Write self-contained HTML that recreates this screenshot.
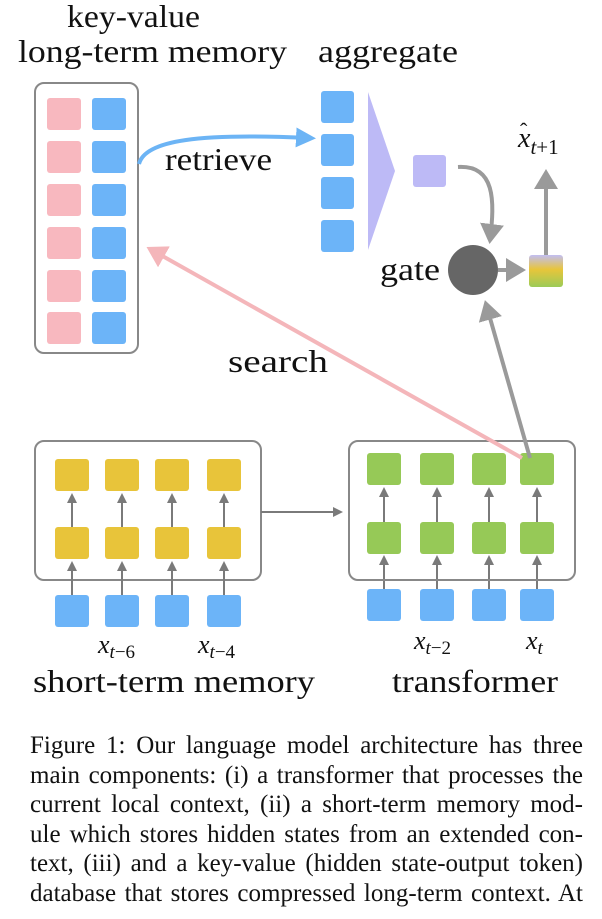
<!DOCTYPE html>
<html><head><meta charset="utf-8"><style>
body{margin:0;width:602px;height:919px;background:#fff;overflow:hidden;position:relative;font-family:"Liberation Serif",serif}
svg{position:absolute;left:0;top:0}
.cap{position:absolute;left:30px;top:731px;width:553px;font-size:25px;line-height:29.6px;text-align:justify;color:#111;white-space:nowrap}
.cap span{display:block;text-align-last:justify}
</style></head><body>
<svg width="602" height="720" viewBox="0 0 602 720" font-family="Liberation Serif, serif">
<defs>
<marker id="ag" markerWidth="6" markerHeight="6" refX="4" refY="3" orient="auto" markerUnits="strokeWidth"><path d="M0,0 L5,3 L0,6 z" fill="#9a9a9a"/></marker>
<marker id="ag2" markerWidth="5" markerHeight="5" refX="4" refY="2.5" orient="auto" markerUnits="strokeWidth"><path d="M0,0 L5,2.5 L0,5 z" fill="#7a7a7a"/></marker>
<marker id="ab" markerWidth="5" markerHeight="5" refX="3" refY="2.5" orient="auto" markerUnits="strokeWidth"><path d="M0,0 L5,2.5 L0,5 z" fill="#6cb4f5"/></marker>
<marker id="ap" markerWidth="6" markerHeight="6" refX="4" refY="3" orient="auto" markerUnits="strokeWidth"><path d="M0,0 L5,3 L0,6 z" fill="#f4b6ba"/></marker>
<linearGradient id="gr" x1="0" y1="0" x2="0" y2="1"><stop offset="0" stop-color="#c2bef2"/><stop offset="0.45" stop-color="#e8c53a"/><stop offset="1" stop-color="#9ccb58"/></linearGradient>
</defs>
<g font-size="32" fill="#111">
<text x="67" y="27" textLength="133" lengthAdjust="spacingAndGlyphs">key-value</text>
<text x="18" y="62" textLength="269" lengthAdjust="spacingAndGlyphs">long-term memory</text>
<text x="318" y="62" textLength="140" lengthAdjust="spacingAndGlyphs">aggregate</text>
<text x="165" y="170" textLength="107" lengthAdjust="spacingAndGlyphs">retrieve</text>
<text x="228" y="372" textLength="100" lengthAdjust="spacingAndGlyphs">search</text>
<text x="380" y="280" textLength="60" lengthAdjust="spacingAndGlyphs">gate</text>
<text x="33" y="692" textLength="282" lengthAdjust="spacingAndGlyphs">short-term memory</text>
<text x="392" y="692" textLength="166" lengthAdjust="spacingAndGlyphs">transformer</text>
</g>
<rect x="35" y="83" width="103" height="270" rx="9" fill="#fff" stroke="#888" stroke-width="2"/>
<g fill="#f8b8bf">
<rect x="47" y="98" width="34" height="32" rx="3"/><rect x="47" y="141" width="34" height="32" rx="3"/><rect x="47" y="184" width="34" height="32" rx="3"/><rect x="47" y="227" width="34" height="32" rx="3"/><rect x="47" y="270" width="34" height="32" rx="3"/><rect x="47" y="312" width="34" height="32" rx="3"/></g>
<g fill="#6cb4f8">
<rect x="92" y="98" width="34" height="32" rx="3"/><rect x="92" y="141" width="34" height="32" rx="3"/><rect x="92" y="184" width="34" height="32" rx="3"/><rect x="92" y="227" width="34" height="32" rx="3"/><rect x="92" y="270" width="34" height="32" rx="3"/><rect x="92" y="312" width="34" height="32" rx="3"/>
<rect x="321" y="91" width="33" height="32" rx="3"/><rect x="321" y="134" width="33" height="32" rx="3"/><rect x="321" y="177" width="33" height="32" rx="3"/><rect x="321" y="220" width="33" height="32" rx="3"/>
</g>
<path d="M139,164 C145,140 200,133 308,138" fill="none" stroke="#6cb4f5" stroke-width="4" marker-end="url(#ab)"/>
<polygon points="368,92 395,171 368,250" fill="#bdbaf6"/>
<rect x="413" y="155" width="33" height="32" rx="3" fill="#bdbaf6"/>
<path d="M458,167 C495,165 495,200 490,240" fill="none" stroke="#9a9a9a" stroke-width="4" marker-end="url(#ag)"/>
<circle cx="473" cy="270" r="25" fill="#666"/>
<line x1="498" y1="270" x2="522" y2="270" stroke="#9a9a9a" stroke-width="4" marker-end="url(#ag)"/>
<rect x="529" y="255" width="34" height="32" rx="3" fill="url(#gr)"/>
<line x1="546" y1="255" x2="546" y2="173" stroke="#9a9a9a" stroke-width="4" marker-end="url(#ag)"/>
<text x="518" y="147" font-size="28" font-style="italic" fill="#111">x<tspan font-size="21" dy="7">t</tspan><tspan font-size="21" font-style="normal">+1</tspan></text>
<text x="520" y="138" font-size="22" fill="#111">ˆ</text>
<rect x="35" y="441" width="226" height="139" rx="9" fill="#fff" stroke="#888" stroke-width="2"/>
<g fill="#e8c43a">
<rect x="55" y="459" width="34" height="32" rx="3"/><rect x="105" y="459" width="34" height="32" rx="3"/><rect x="155" y="459" width="34" height="32" rx="3"/><rect x="207" y="459" width="34" height="32" rx="3"/>
<rect x="55" y="527" width="34" height="32" rx="3"/><rect x="105" y="527" width="34" height="32" rx="3"/><rect x="155" y="527" width="34" height="32" rx="3"/><rect x="207" y="527" width="34" height="32" rx="3"/>
</g>
<g fill="#6cb4f8">
<rect x="55" y="595" width="34" height="32" rx="3"/><rect x="105" y="595" width="34" height="32" rx="3"/><rect x="155" y="595" width="34" height="32" rx="3"/><rect x="207" y="595" width="34" height="32" rx="3"/>
<rect x="367" y="589" width="34" height="32" rx="3"/><rect x="420" y="589" width="34" height="32" rx="3"/><rect x="472" y="589" width="34" height="32" rx="3"/><rect x="520" y="589" width="34" height="32" rx="3"/>
</g>
<g stroke="#7a7a7a" stroke-width="2" marker-end="url(#ag2)">
<line x1="72" y1="595" x2="72" y2="563"/><line x1="122" y1="595" x2="122" y2="563"/><line x1="172" y1="595" x2="172" y2="563"/><line x1="224" y1="595" x2="224" y2="563"/>
<line x1="72" y1="527" x2="72" y2="495"/><line x1="122" y1="527" x2="122" y2="495"/><line x1="172" y1="527" x2="172" y2="495"/><line x1="224" y1="527" x2="224" y2="495"/>
<line x1="384" y1="589" x2="384" y2="557"/><line x1="437" y1="589" x2="437" y2="557"/><line x1="489" y1="589" x2="489" y2="557"/><line x1="537" y1="589" x2="537" y2="557"/>
<line x1="384" y1="522" x2="384" y2="489"/><line x1="437" y1="522" x2="437" y2="489"/><line x1="489" y1="522" x2="489" y2="489"/><line x1="537" y1="522" x2="537" y2="489"/>
<line x1="261" y1="512" x2="341" y2="512"/>
</g>
<rect x="349" y="441" width="226" height="139" rx="9" fill="none" stroke="#888" stroke-width="2"/>
<g fill="#96c957">
<rect x="367" y="453" width="34" height="32" rx="3"/><rect x="420" y="453" width="34" height="32" rx="3"/><rect x="472" y="453" width="34" height="32" rx="3"/><rect x="520" y="453" width="34" height="32" rx="3"/>
<rect x="367" y="522" width="34" height="32" rx="3"/><rect x="420" y="522" width="34" height="32" rx="3"/><rect x="472" y="522" width="34" height="32" rx="3"/><rect x="520" y="522" width="34" height="32" rx="3"/>
</g>
<line x1="522" y1="458" x2="150" y2="249" stroke="#f4b6ba" stroke-width="4" marker-end="url(#ap)"/>
<line x1="530" y1="458" x2="486" y2="304" stroke="#9a9a9a" stroke-width="4" marker-end="url(#ag)"/>
<g font-size="26" font-style="italic" fill="#111">
<text x="98" y="653">x<tspan font-size="19" dy="5">t</tspan><tspan font-size="19" font-style="normal">−6</tspan></text>
<text x="198" y="653">x<tspan font-size="19" dy="5">t</tspan><tspan font-size="19" font-style="normal">−4</tspan></text>
<text x="414" y="649">x<tspan font-size="19" dy="5">t</tspan><tspan font-size="19" font-style="normal">−2</tspan></text>
<text x="526" y="649">x<tspan font-size="19" dy="5">t</tspan></text>
</g>
</svg>
<div class="cap"><span>Figure 1: Our language model architecture has three</span><span>main components: (i) a transformer that processes the</span><span>current local context, (ii) a short-term memory mod-</span><span>ule which stores hidden states from an extended con-</span><span>text, (iii) and a key-value (hidden state-output token)</span><span>database that stores compressed long-term context. At</span></div>
</body></html>
